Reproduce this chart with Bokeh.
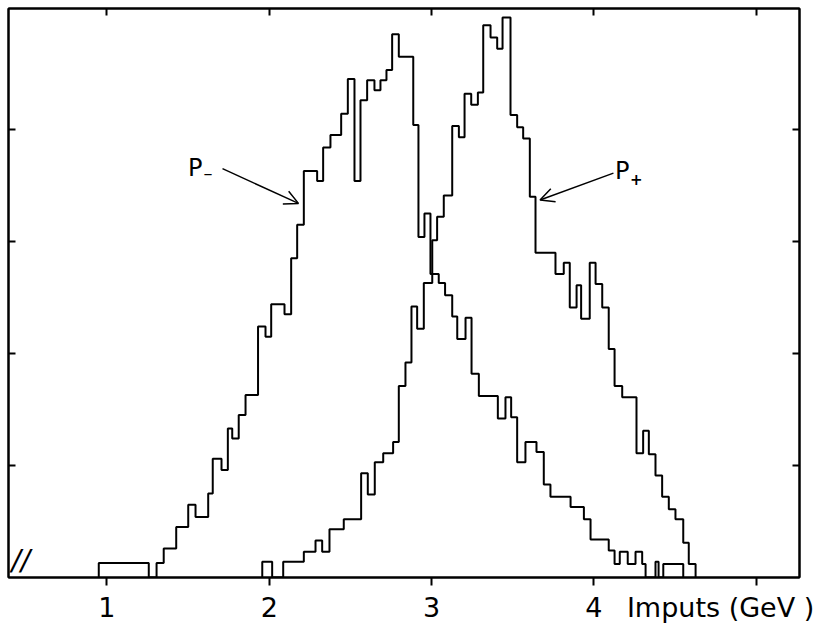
from bokeh.plotting import figure
from bokeh.models import LinearAxis, FixedTicker, Label, Arrow, OpenHead
from bokeh.embed import file_html
from bokeh.resources import INLINE

# P- histogram: bin edges (GeV) and contents (arbitrary units)
pm_edges = [0.950, 1.258, 1.306, 1.350, 1.427, 1.501, 1.546, 1.624, 1.652, 1.706,
            1.745, 1.772, 1.812, 1.854, 1.931, 1.977, 2.012, 2.094, 2.135, 2.172,
            2.213, 2.295, 2.332, 2.377, 2.443, 2.484, 2.525, 2.562, 2.603, 2.648,
            2.685, 2.722, 2.757, 2.798, 2.887, 2.919, 2.956, 2.993, 3.044, 3.083,
            3.127, 3.158, 3.209, 3.246, 3.291, 3.408, 3.455, 3.490, 3.527, 3.578,
            3.646, 3.691, 3.732, 3.856, 3.938, 3.979, 4.091, 4.127, 4.159, 4.208,
            4.256, 4.297, 4.318, 4.379, 4.398, 4.427, 4.550]
pm_counts = [1.3, 0, 1.3, 2.6, 4.5, 6.5, 5.4, 7.5, 10.6, 9.6,
             13.3, 12.4, 14.5, 16.3, 22.4, 21.5, 24.4, 23.5, 28.5, 31.5,
             36.3, 35.4, 38.4, 39.5, 41.4, 44.5, 35.4, 42.6, 44.4, 43.5,
             44.4, 45.3, 48.5, 46.5, 40.4, 30.4, 32.5, 27.1, 26.3, 25.2,
             23.3, 21.3, 23.2, 18.2, 16.2, 14.2, 16.1, 14.3, 10.3, 12.1,
             11.2, 8.3, 7.2, 6.3, 5.2, 3.4, 2.4, 1.2, 2.3, 1.2,
             2.3, 1.2, 0, 1.4, 0, 1.2]

# P+ histogram
pp_edges = [1.957, 2.018, 2.086, 2.213, 2.285, 2.326, 2.371, 2.459, 2.566, 2.607,
            2.650, 2.702, 2.763, 2.798, 2.839, 2.876, 2.911, 2.952, 3.004, 3.034,
            3.075, 3.127, 3.168, 3.203, 3.244, 3.285, 3.318, 3.363, 3.404, 3.437,
            3.486, 3.527, 3.564, 3.605, 3.640, 3.763, 3.814, 3.851, 3.893, 3.921,
            3.974, 4.010, 4.051, 4.091, 4.127, 4.174, 4.262, 4.303, 4.338, 4.379,
            4.420, 4.461, 4.502, 4.550, 4.584, 4.626]
pp_counts = [1.4, 0, 1.4, 2.3, 3.3, 2.3, 4.3, 5.2, 9.3, 7.4,
             10.3, 11.1, 12.1, 17.1, 19.2, 24.2, 22.2, 26.3, 30.1, 32.2,
             34.1, 40.3, 39.3, 43.2, 42.2, 43.3, 49.3, 48.2, 47.2, 50.0,
             41.3, 40.2, 39.2, 34.0, 29.0, 27.1, 28.1, 24.1, 26.1, 23.1,
             28.1, 26.2, 24.1, 20.4, 17.1, 16.1, 11.1, 13.1, 11.0, 9.1,
             7.2, 6.1, 5.2, 3.1, 1.2]

x_ticks = [1, 2, 3, 4, 5]
y_ticks = [10, 20, 30, 40]
x_title = "Imputs (GeV )"
x_title_pos = 4.78
x_labels = {1: "1", 2: "2", 3: "3", 4: "4", x_title_pos: x_title}


def outline(edges, counts):
    xs, ys = [edges[0]], [0.0]
    for i, c in enumerate(counts):
        xs += [edges[i], edges[i + 1]]
        ys += [c, c]
    xs.append(edges[-1])
    ys.append(0.0)
    return xs, ys


FONT = "DejaVu Sans"

p = figure(width=824, height=636, output_backend="svg", toolbar_location=None,
           x_range=(0.394, 5.266), y_range=(0, 50.8),
           x_axis_type=None, y_axis_type=None,
           min_border_left=8, min_border_right=25, min_border_top=8,
           min_border_bottom=59)
p.background_fill_color = "white"
p.border_fill_color = "white"
p.outline_line_color = "black"
p.outline_line_width = 2
p.grid.visible = False

# bottom axis: tick marks drawn as minor ticks at 1..5, labels from major ticks
xb = LinearAxis(ticker=FixedTicker(ticks=[1, 2, 3, 4, x_title_pos], minor_ticks=x_ticks),
                major_label_overrides=x_labels,
                major_tick_line_color=None,
                minor_tick_in=0, minor_tick_out=8, minor_tick_line_width=2,
                minor_tick_line_color="black", axis_line_width=2,
                major_label_text_font=FONT, major_label_text_font_size="27px",
                major_label_text_color="black", major_label_standoff=6)
p.add_layout(xb, "below")

# top axis (inward ticks, no labels)
xt = LinearAxis(ticker=FixedTicker(ticks=x_ticks), major_tick_in=7, major_tick_out=0,
                minor_tick_line_color=None, major_tick_line_width=2, axis_line_width=2,
                major_label_text_color=None, major_label_standoff=0)
p.add_layout(xt, "above")

for side in ("left", "right"):
    ya = LinearAxis(ticker=FixedTicker(ticks=y_ticks), major_tick_in=7, major_tick_out=0,
                    minor_tick_line_color=None, major_tick_line_width=2, axis_line_width=2,
                    major_label_text_color=None, major_label_standoff=0)
    p.add_layout(ya, side)

xm, ym = outline(pm_edges, pm_counts)
p.line(xm, ym, line_color="black", line_width=2)
xp, yp = outline(pp_edges, pp_counts)
p.line(xp, yp, line_color="black", line_width=2)

# annotations
p.add_layout(Arrow(end=OpenHead(size=14, line_width=1.5, line_color="black"),
                   x_start=1.712, y_start=36.5, x_end=2.18, y_end=33.4,
                   line_width=1.5, line_color="black"))
p.add_layout(Arrow(end=OpenHead(size=14, line_width=1.5, line_color="black"),
                   x_start=4.12, y_start=36.1, x_end=3.668, y_end=33.7,
                   line_width=1.5, line_color="black"))

p.add_layout(Label(x=1.50, y=36.6, text="P", text_font=FONT, text_font_size="24px",
                   text_baseline="alphabetic", text_color="black"))
p.add_layout(Label(x=1.595, y=36.2, text="\u2013", text_font=FONT, text_font_size="18px",
                   text_baseline="alphabetic", text_color="black"))
p.add_layout(Label(x=4.13, y=36.3, text="P", text_font=FONT, text_font_size="24px",
                   text_baseline="alphabetic", text_color="black"))
p.add_layout(Label(x=4.222, y=35.6, text="+", text_font=FONT, text_font_size="15px",
                   text_baseline="alphabetic", text_color="black", text_font_style="bold"))

# axis-break mark at the lower left corner
p.add_layout(Label(x=0.47, y=0.05, text="//", text_font=FONT, text_font_size="28px",
                   text_font_style="italic", text_baseline="bottom", text_align="center",
                   text_color="black"))

open("out.html", "w").write(file_html(p, INLINE))
